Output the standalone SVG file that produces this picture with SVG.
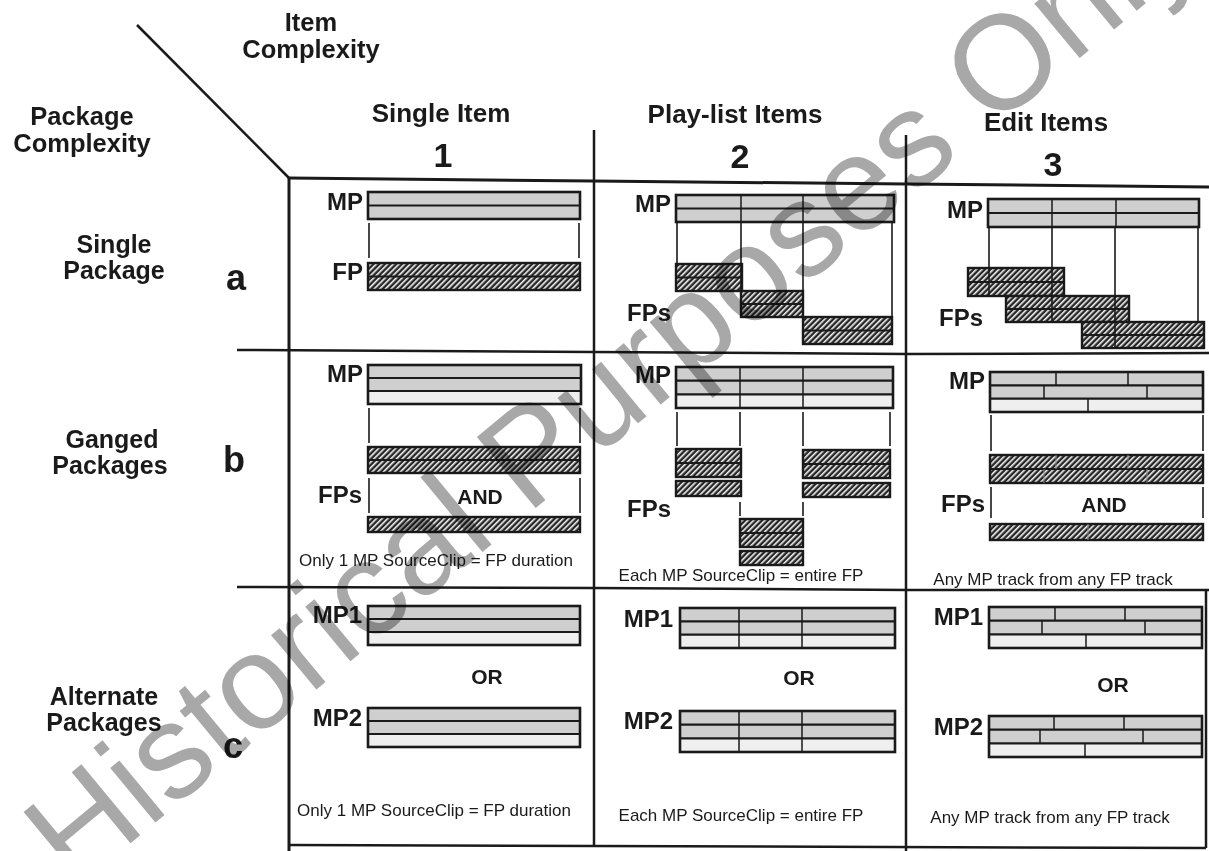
<svg xmlns="http://www.w3.org/2000/svg" width="1209" height="851" viewBox="0 0 1209 851">
<style>
.t{font-family:"Liberation Sans",Arial,Helvetica,sans-serif;font-weight:bold;fill:#1a1a1a}
.hdr{font-size:26px;text-anchor:middle}
.ax{font-size:25.5px;text-anchor:middle}
.num{font-size:34px;text-anchor:middle}
.row{font-size:25px;text-anchor:middle}
.let{font-size:36px;text-anchor:middle}
.lab{font-size:24px;text-anchor:end}
.op{font-size:21px;text-anchor:middle}
.cap{font-family:"Liberation Sans",Arial,Helvetica,sans-serif;font-size:17px;fill:#1a1a1a;text-anchor:middle}
.grid{stroke:#1a1a1a;stroke-width:2.5;fill:none}
.thin{stroke:#1a1a1a;stroke-width:1.6;fill:none}
.mp{fill:#cfcfcf}
.mp3{fill:#efefef}
.ol{fill:none;stroke:#1a1a1a;stroke-width:2.6}
.tk{stroke:#1a1a1a;stroke-width:2.2}
.sd{stroke:#1a1a1a;stroke-width:1.5}
.fp{fill:url(#hatch);stroke:#1a1a1a;stroke-width:2.4}
.fsd{stroke:#8a8a8a;stroke-width:1}
.wm{font-family:"Liberation Sans",Arial,Helvetica,sans-serif;font-size:134px;fill:#a8a8a8;mix-blend-mode:multiply}
</style>
<defs>
<pattern id="hatch" patternUnits="userSpaceOnUse" width="4" height="4" patternTransform="rotate(45)">
<rect width="4" height="4" fill="#262626"/>
<rect width="1.6" height="4" fill="#f4f4f4"/>
</pattern>
</defs>
<rect width="1209" height="851" fill="#ffffff"/>

<g id="grid" class="grid">
<path d="M137 25 L289 178"/>
<path d="M289 178 L593 181 L907 184 L1209 187" stroke-width="3"/>
<path d="M289 177 V851" stroke-width="3"/>
<path d="M237 350 L593 352 L907 354 L1209 353"/>
<path d="M237 587 L593 588 L907 590 L1209 590"/>
<path d="M289 845 L1206 848"/>
<path d="M594 130 V847"/>
<path d="M906 135 V851"/>
<path d="M1206 590 V848"/>
</g>

<g id="axis-headers" class="t">
<text class="ax"><tspan x="311" y="31">Item</tspan><tspan x="311" y="58">Complexity</tspan></text>
<text class="ax"><tspan x="82" y="125">Package</tspan><tspan x="82" y="152">Complexity</tspan></text>
</g>
<g id="col1-header" class="t">
<text class="hdr" x="441" y="122">Single Item</text>
<text class="num" x="443" y="167">1</text>
</g>
<g id="col2-header" class="t">
<text class="hdr" x="735" y="123">Play-list Items</text>
<text class="num" x="740" y="168">2</text>
</g>
<g id="col3-header" class="t">
<text class="hdr" x="1046" y="131">Edit Items</text>
<text class="num" x="1053" y="176">3</text>
</g>
<g id="rowa-header" class="t">
<text class="row"><tspan x="114" y="253">Single</tspan><tspan x="114" y="279">Package</tspan></text>
<text class="let" x="236" y="290">a</text>
</g>
<g id="rowb-header" class="t">
<text class="row"><tspan x="112" y="448">Ganged</tspan><tspan x="110" y="474">Packages</tspan></text>
<text class="let" x="234" y="472">b</text>
</g>
<g id="rowc-header" class="t">
<text class="row"><tspan x="104" y="705">Alternate</tspan><tspan x="104" y="731">Packages</tspan></text>
<text class="let" x="233" y="758">c</text>
</g>

<!-- a1 -->
<g id="cell-a1">
<text class="t lab" x="363" y="210">MP</text>
<rect class="mp" x="368" y="192" width="212" height="27"/>
<rect class="ol" x="368" y="192" width="212" height="27"/>
<line class="tk" x1="368" y1="205.5" x2="580" y2="205.5"/>
<text class="t lab" x="363" y="280">FP</text>
<rect class="fp" x="368" y="263" width="212" height="27"/>
<line class="tk" x1="368" y1="276.5" x2="580" y2="276.5"/>
</g>

<!-- a2 -->
<g id="cell-a2">
<text class="t lab" x="671" y="212">MP</text>
<rect class="mp" x="676" y="195" width="218" height="27"/>
<rect class="ol" x="676" y="195" width="218" height="27"/>
<line class="tk" x1="676" y1="208.5" x2="894" y2="208.5"/>
<line class="sd" x1="741" y1="195" x2="741" y2="222"/>
<line class="sd" x1="803" y1="195" x2="803" y2="222"/>
<rect class="fp" x="676" y="264" width="66" height="27"/>
<line class="tk" x1="676" y1="277.5" x2="742" y2="277.5"/>
<rect class="fp" x="741" y="291" width="62" height="26"/>
<line class="tk" x1="741" y1="304" x2="803" y2="304"/>
<rect class="fp" x="803" y="317" width="89" height="27"/>
<line class="tk" x1="803" y1="330.5" x2="892" y2="330.5"/>
<text class="t lab" x="671" y="321">FPs</text>
</g>

<!-- a3 -->
<g id="cell-a3">
<text class="t lab" x="983" y="218">MP</text>
<rect class="mp" x="988" y="199" width="211" height="28"/>
<rect class="ol" x="988" y="199" width="211" height="28"/>
<line class="tk" x1="988" y1="213" x2="1199" y2="213"/>
<line class="sd" x1="1052" y1="199" x2="1052" y2="227"/>
<line class="sd" x1="1116" y1="199" x2="1116" y2="227"/>
<rect class="fp" x="968" y="268" width="96" height="28"/>
<line class="tk" x1="968" y1="282" x2="1064" y2="282"/>
<rect class="fp" x="1006" y="296" width="123" height="26"/>
<line class="tk" x1="1006" y1="309" x2="1129" y2="309"/>
<rect class="fp" x="1082" y="322" width="122" height="26"/>
<line class="tk" x1="1082" y1="335" x2="1204" y2="335"/>
<text class="t lab" x="983" y="326">FPs</text>
</g>

<!-- b1 -->
<g id="cell-b1">
<text class="t lab" x="363" y="382">MP</text>
<rect class="mp" x="368" y="365" width="213" height="26"/>
<rect class="mp3" x="368" y="391" width="213" height="13"/>
<rect class="ol" x="368" y="365" width="213" height="39"/>
<line class="tk" x1="368" y1="378" x2="581" y2="378"/>
<line class="tk" x1="368" y1="391" x2="581" y2="391"/>
<rect class="fp" x="368" y="447" width="212" height="26"/>
<line class="tk" x1="368" y1="460" x2="580" y2="460"/>
<text class="t lab" x="362" y="503">FPs</text>
<text class="t op" x="480" y="504">AND</text>
<rect class="fp" x="368" y="517" width="212" height="15"/>
<text class="cap" x="436" y="566">Only 1 MP SourceClip = FP duration</text>
</g>

<!-- b2 -->
<g id="cell-b2">
<text class="t lab" x="671" y="383">MP</text>
<rect class="mp" x="676" y="367" width="217" height="27.3"/>
<rect class="mp3" x="676" y="394.3" width="217" height="13.7"/>
<rect class="ol" x="676" y="367" width="217" height="41"/>
<line class="tk" x1="676" y1="380.7" x2="893" y2="380.7"/>
<line class="tk" x1="676" y1="394.3" x2="893" y2="394.3"/>
<line class="sd" x1="740" y1="367" x2="740" y2="408"/>
<line class="sd" x1="803" y1="367" x2="803" y2="408"/>
<rect class="fp" x="676" y="449" width="65" height="28"/>
<line class="tk" x1="676" y1="463" x2="741" y2="463"/>
<rect class="fp" x="676" y="481" width="65" height="15"/>
<rect class="fp" x="803" y="450" width="87" height="28"/>
<line class="tk" x1="803" y1="464" x2="890" y2="464"/>
<rect class="fp" x="803" y="483" width="87" height="14"/>
<rect class="fp" x="740" y="519" width="63" height="28"/>
<line class="tk" x1="740" y1="533" x2="803" y2="533"/>
<rect class="fp" x="740" y="551" width="63" height="14"/>
<text class="t lab" x="671" y="517">FPs</text>
<text class="cap" x="741" y="581">Each MP SourceClip = entire FP</text>
</g>

<!-- b3 -->
<g id="cell-b3">
<text class="t lab" x="985" y="389">MP</text>
<rect class="mp" x="990" y="372" width="213" height="26.7"/>
<rect class="mp3" x="990" y="398.7" width="213" height="13.3"/>
<rect class="ol" x="990" y="372" width="213" height="40"/>
<line class="tk" x1="990" y1="385.3" x2="1203" y2="385.3"/>
<line class="tk" x1="990" y1="398.7" x2="1203" y2="398.7"/>
<line class="sd" x1="1056" y1="372" x2="1056" y2="385.3"/>
<line class="sd" x1="1128" y1="372" x2="1128" y2="385.3"/>
<line class="sd" x1="1044" y1="385.3" x2="1044" y2="398.7"/>
<line class="sd" x1="1147" y1="385.3" x2="1147" y2="398.7"/>
<line class="sd" x1="1088" y1="398.7" x2="1088" y2="412"/>
<rect class="fp" x="990" y="455" width="213" height="28"/>
<line class="tk" x1="990" y1="469" x2="1203" y2="469"/>
<line class="fsd" x1="1056" y1="455" x2="1056" y2="469"/>
<line class="fsd" x1="1128" y1="455" x2="1128" y2="469"/>
<line class="fsd" x1="1044" y1="469" x2="1044" y2="483"/>
<line class="fsd" x1="1147" y1="469" x2="1147" y2="483"/>
<text class="t lab" x="985" y="512">FPs</text>
<text class="t op" x="1104" y="512">AND</text>
<rect class="fp" x="990" y="524" width="213" height="16"/>
<line class="fsd" x1="1088" y1="524" x2="1088" y2="540"/>
<text class="cap" x="1053" y="585">Any MP track from any FP track</text>
</g>

<!-- c1 -->
<g id="cell-c1">
<text class="t lab" x="362" y="623">MP1</text>
<rect class="mp" x="368" y="606" width="212" height="26"/>
<rect class="mp3" x="368" y="632" width="212" height="13"/>
<rect class="ol" x="368" y="606" width="212" height="39"/>
<line class="tk" x1="368" y1="619" x2="580" y2="619"/>
<line class="tk" x1="368" y1="632" x2="580" y2="632"/>
<text class="t op" x="487" y="684">OR</text>
<text class="t lab" x="362" y="726">MP2</text>
<rect class="mp" x="368" y="708" width="212" height="26"/>
<rect class="mp3" x="368" y="734" width="212" height="13"/>
<rect class="ol" x="368" y="708" width="212" height="39"/>
<line class="tk" x1="368" y1="721" x2="580" y2="721"/>
<line class="tk" x1="368" y1="734" x2="580" y2="734"/>
<text class="cap" x="434" y="816">Only 1 MP SourceClip = FP duration</text>
</g>

<!-- c2 -->
<g id="cell-c2">
<text class="t lab" x="673" y="627">MP1</text>
<rect class="mp" x="680" y="608" width="215" height="26.7"/>
<rect class="mp3" x="680" y="634.7" width="215" height="13.3"/>
<rect class="ol" x="680" y="608" width="215" height="40"/>
<line class="tk" x1="680" y1="621.3" x2="895" y2="621.3"/>
<line class="tk" x1="680" y1="634.7" x2="895" y2="634.7"/>
<line class="sd" x1="739" y1="608" x2="739" y2="648"/>
<line class="sd" x1="802" y1="608" x2="802" y2="648"/>
<text class="t op" x="799" y="685">OR</text>
<text class="t lab" x="673" y="729">MP2</text>
<rect class="mp" x="680" y="711" width="215" height="27.3"/>
<rect class="mp3" x="680" y="738.3" width="215" height="13.7"/>
<rect class="ol" x="680" y="711" width="215" height="41"/>
<line class="tk" x1="680" y1="724.7" x2="895" y2="724.7"/>
<line class="tk" x1="680" y1="738.3" x2="895" y2="738.3"/>
<line class="sd" x1="739" y1="711" x2="739" y2="752"/>
<line class="sd" x1="802" y1="711" x2="802" y2="752"/>
<text class="cap" x="741" y="821">Each MP SourceClip = entire FP</text>
</g>

<!-- c3 -->
<g id="cell-c3">
<text class="t lab" x="983" y="625">MP1</text>
<rect class="mp" x="989" y="607" width="213" height="27.3"/>
<rect class="mp3" x="989" y="634.3" width="213" height="13.7"/>
<rect class="ol" x="989" y="607" width="213" height="41"/>
<line class="tk" x1="989" y1="620.7" x2="1202" y2="620.7"/>
<line class="tk" x1="989" y1="634.3" x2="1202" y2="634.3"/>
<line class="sd" x1="1055" y1="607" x2="1055" y2="620.7"/>
<line class="sd" x1="1125" y1="607" x2="1125" y2="620.7"/>
<line class="sd" x1="1042" y1="620.7" x2="1042" y2="634.3"/>
<line class="sd" x1="1145" y1="620.7" x2="1145" y2="634.3"/>
<line class="sd" x1="1086" y1="634.3" x2="1086" y2="648"/>
<text class="t op" x="1113" y="692">OR</text>
<text class="t lab" x="983" y="735">MP2</text>
<rect class="mp" x="989" y="716" width="213" height="27.3"/>
<rect class="mp3" x="989" y="743.3" width="213" height="13.7"/>
<rect class="ol" x="989" y="716" width="213" height="41"/>
<line class="tk" x1="989" y1="729.7" x2="1202" y2="729.7"/>
<line class="tk" x1="989" y1="743.3" x2="1202" y2="743.3"/>
<line class="sd" x1="1054" y1="716" x2="1054" y2="729.7"/>
<line class="sd" x1="1124" y1="716" x2="1124" y2="729.7"/>
<line class="sd" x1="1040" y1="729.7" x2="1040" y2="743.3"/>
<line class="sd" x1="1143" y1="729.7" x2="1143" y2="743.3"/>
<line class="sd" x1="1085" y1="743.3" x2="1085" y2="757"/>
<text class="cap" x="1050" y="823">Any MP track from any FP track</text>
</g>

<g id="connectors" class="thin">
<line x1="369" y1="223" x2="369" y2="258"/>
<line x1="579" y1="223" x2="579" y2="258"/>
<line x1="677" y1="222" x2="677" y2="264"/>
<line x1="741" y1="222" x2="741" y2="291"/>
<line x1="803" y1="222" x2="803" y2="317"/>
<line x1="892" y1="222" x2="892" y2="317"/>
<line x1="989" y1="227" x2="989" y2="296"/>
<line x1="1052" y1="227" x2="1052" y2="322"/>
<line x1="1115" y1="227" x2="1115" y2="348"/>
<line x1="1198" y1="227" x2="1198" y2="322"/>
<line x1="369" y1="408" x2="369" y2="443"/>
<line x1="580" y1="408" x2="580" y2="443"/>
<line x1="369" y1="478" x2="369" y2="513"/>
<line x1="580" y1="478" x2="580" y2="513"/>
<line x1="677" y1="412" x2="677" y2="446"/>
<line x1="740" y1="412" x2="740" y2="446"/>
<line x1="803" y1="412" x2="803" y2="446"/>
<line x1="890" y1="412" x2="890" y2="446"/>
<line x1="740" y1="502" x2="740" y2="516"/>
<line x1="803" y1="502" x2="803" y2="516"/>
<line x1="991" y1="415" x2="991" y2="451"/>
<line x1="1203" y1="415" x2="1203" y2="451"/>
<line x1="991" y1="487" x2="991" y2="518"/>
<line x1="1203" y1="487" x2="1203" y2="518"/>
</g>

<g id="watermark">
<text class="wm" x="74" y="890" transform="rotate(-39.6 74 890)">Historical Purposes Only</text>
</g>
</svg>
